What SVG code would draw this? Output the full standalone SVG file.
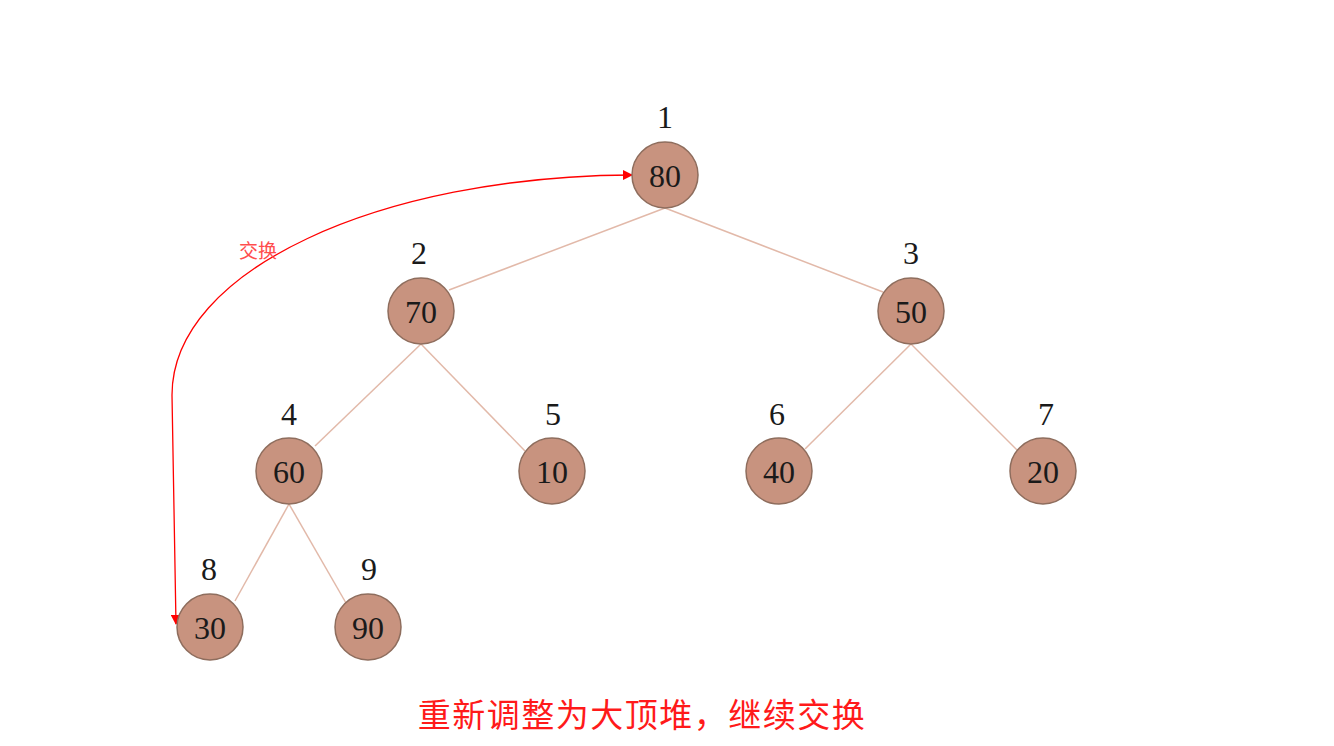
<svg xmlns="http://www.w3.org/2000/svg" width="1334" height="746" viewBox="0 0 1334 746">
<style>
.n circle{fill:#c8937f;stroke:#8e6d5d;stroke-width:1.5}
.v{font-family:"Liberation Serif",serif;font-size:32px;fill:#1a1a1a;text-anchor:middle}
.i{font-family:"Liberation Serif",serif;font-size:32px;fill:#1a1a1a;text-anchor:middle}
.e line{stroke:#e2b9a9;stroke-width:1.5}
</style>
<defs>
<marker id="ar" viewBox="0 0 10 10" refX="9" refY="5" markerWidth="10" markerHeight="10" markerUnits="userSpaceOnUse" orient="auto-start-reverse">
<path d="M0,0 L10,5 L0,10 z" fill="#ff0000"/>
</marker>
</defs>
<rect width="1334" height="746" fill="#ffffff"/>
<g id="connectors" class="e">
<line x1="665" y1="208" x2="449" y2="290"/>
<line x1="665" y1="208" x2="883" y2="292"/>
<line x1="421" y1="344" x2="315" y2="446"/>
<line x1="421" y1="344" x2="525" y2="451"/>
<line x1="911" y1="344" x2="805" y2="449"/>
<line x1="911" y1="344" x2="1018" y2="451"/>
<line x1="289" y1="504" x2="235" y2="601"/>
<line x1="289" y1="504" x2="346" y2="603"/>
<path d="M176,624 L172,395 C172,270 380,176 632,175" fill="none" stroke="#ff0000" stroke-width="1.3" marker-start="url(#ar)" marker-end="url(#ar)"/>
</g>
<text x="258" y="258" font-family="'Noto Sans CJK SC',sans-serif" font-size="19" fill="#ff4d4d" text-anchor="middle">交换</text>
<g id="n1" class="n"><text class="i" x="665" y="128">1</text><circle cx="665" cy="175" r="33"/><text class="v" x="665" y="187">80</text></g>
<g id="n2" class="n"><text class="i" x="419" y="264">2</text><circle cx="421" cy="311" r="33"/><text class="v" x="421" y="323">70</text></g>
<g id="n3" class="n"><text class="i" x="911" y="264">3</text><circle cx="911" cy="311" r="33"/><text class="v" x="911" y="323">50</text></g>
<g id="n4" class="n"><text class="i" x="289" y="425">4</text><circle cx="289" cy="471" r="33"/><text class="v" x="289" y="483">60</text></g>
<g id="n5" class="n"><text class="i" x="553" y="425">5</text><circle cx="552" cy="471" r="33"/><text class="v" x="552" y="483">10</text></g>
<g id="n6" class="n"><text class="i" x="777" y="425">6</text><circle cx="779" cy="471" r="33"/><text class="v" x="779" y="483">40</text></g>
<g id="n7" class="n"><text class="i" x="1046" y="425">7</text><circle cx="1043" cy="471" r="33"/><text class="v" x="1043" y="483">20</text></g>
<g id="n8" class="n"><text class="i" x="209" y="580">8</text><circle cx="210" cy="627" r="33"/><text class="v" x="210" y="639">30</text></g>
<g id="n9" class="n"><text class="i" x="369" y="580">9</text><circle cx="368" cy="627" r="33"/><text class="v" x="368" y="639">90</text></g>
<text x="642" y="727" font-family="'Noto Sans CJK SC',sans-serif" font-size="33" fill="#ff1a1a" text-anchor="middle" letter-spacing="1.5">重新调整为大顶堆，继续交换</text>
</svg>
